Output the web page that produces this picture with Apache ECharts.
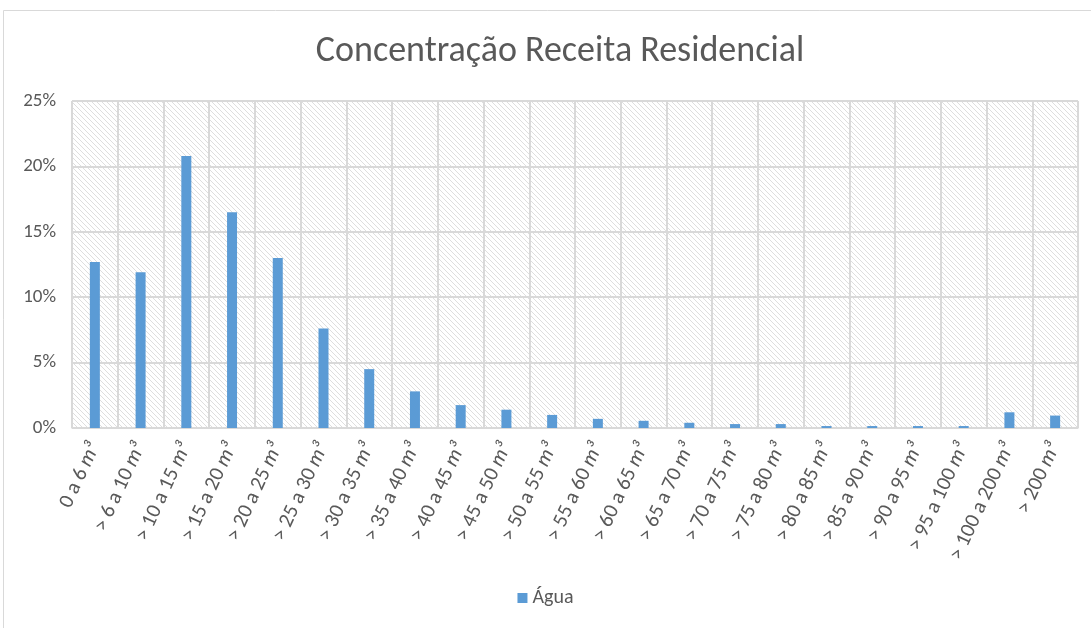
<!DOCTYPE html>
<html>
<head>
<meta charset="utf-8">
<title>Concentração Receita Residencial</title>
<script src="https://cdn.jsdelivr.net/npm/echarts@6/dist/echarts.min.js"></script>
<style>
  html, body { margin: 0; padding: 0; background: #fff; }
  #main { width: 1091px; height: 628px; }
</style>
</head>
<body>
<div id="main"></div>
<script type="text/javascript">
    // faixas de consumo
    var categorias = ['0 a 6 m³', '> 6 a 10 m³', '> 10 a 15 m³', '> 15 a 20 m³', '> 20 a 25 m³',
        '> 25 a 30 m³', '> 30 a 35 m³', '> 35 a 40 m³', '> 40 a 45 m³', '> 45 a 50 m³',
        '> 50 a 55 m³', '> 55 a 60 m³', '> 60 a 65 m³', '> 65 a 70 m³', '> 70 a 75 m³',
        '> 75 a 80 m³', '> 80 a 85 m³', '> 85 a 90 m³', '> 90 a 95 m³', '> 95 a 100 m³',
        '> 100 a 200 m³', '> 200 m³'];
    // % da receita (agua)
    var agua = [12.7, 11.9, 20.8, 16.5, 13.0, 7.6, 4.5, 2.8, 1.75, 1.4,
        1.0, 0.7, 0.55, 0.4, 0.3, 0.3, 0.15, 0.15, 0.15, 0.15,
        1.2, 0.95];
    var eixoY = [0, 5, 10, 15, 20, 25];

    var fonte = "Carlito, 'Liberation Sans Narrow', 'Open Sans', sans-serif";

    // hachura do fundo da area de plotagem
    var hachura = document.createElement('canvas');
    hachura.width = 5;
    hachura.height = 5;
    var ctx = hachura.getContext('2d');
    ctx.fillStyle = '#ffffff';
    ctx.fillRect(0, 0, 5, 5);
    ctx.strokeStyle = '#dedede';
    ctx.lineWidth = 1;
    for (var k = -5; k <= 5; k += 5) {
        ctx.beginPath();
        ctx.moveTo(k, 0);
        ctx.lineTo(k + 5, 5);
        ctx.stroke();
    }

    var myChart = echarts.init(document.getElementById('main'));

    var option = {
        animation: false,
        backgroundColor: '#fff',
        title: {
            text: 'Concentração Receita Residencial',
            left: 555,
            top: 29,
            textAlign: 'center',
            textStyle: { fontFamily: fonte, fontSize: 36, fontWeight: 'normal', color: '#595959' }
        },
        graphic: [{
            type: 'rect',
            shape: { x: 3.5, y: 10.5, width: 1100, height: 640 },
            style: { fill: 'none', stroke: '#d9d9d9', lineWidth: 1 },
            silent: true
        }],
        legend: {
            data: ['Água'],
            bottom: 15,
            left: 'center',
            icon: 'rect',
            itemWidth: 10,
            itemHeight: 10,
            itemGap: 6,
            textStyle: { fontFamily: fonte, fontSize: 20, color: '#595959' }
        },
        grid: {
            left: 72,
            right: 13,
            top: 101,
            bottom: 200,
            show: true,
            backgroundColor: { image: hachura, repeat: 'repeat' },
            borderColor: '#d9d9d9',
            borderWidth: 1
        },
        xAxis: {
            type: 'category',
            data: categorias,
            axisLine: { lineStyle: { color: '#d9d9d9', width: 1 } },
            axisTick: { show: false },
            splitLine: { show: true, lineStyle: { color: '#d9d9d9', width: 2 } },
            axisLabel: {
                interval: 0,
                rotate: 65,
                margin: 16,
                fontFamily: fonte,
                fontSize: 21,
                color: '#595959',
                formatter: function (v) { return v.replace('m³', '{i|m³}'); },
                rich: {
                    i: { fontFamily: fonte, fontSize: 21, fontStyle: 'italic', color: '#595959' }
                }
            }
        },
        yAxis: {
            type: 'value',
            min: 0,
            max: eixoY[eixoY.length - 1],
            interval: 5,
            axisLine: { show: false },
            axisTick: { show: false },
            splitLine: { lineStyle: { color: '#d9d9d9', width: 2 } },
            axisLabel: {
                margin: 16,
                fontFamily: fonte,
                fontSize: 19,
                color: '#595959',
                formatter: function (v) { return v + '%'; }
            }
        },
        series: [{
            name: 'Água',
            type: 'bar',
            data: agua,
            barWidth: 10,
            itemStyle: { color: '#5b9bd5' }
        }]
    };

    myChart.setOption(option);
</script>
</body>
</html>
